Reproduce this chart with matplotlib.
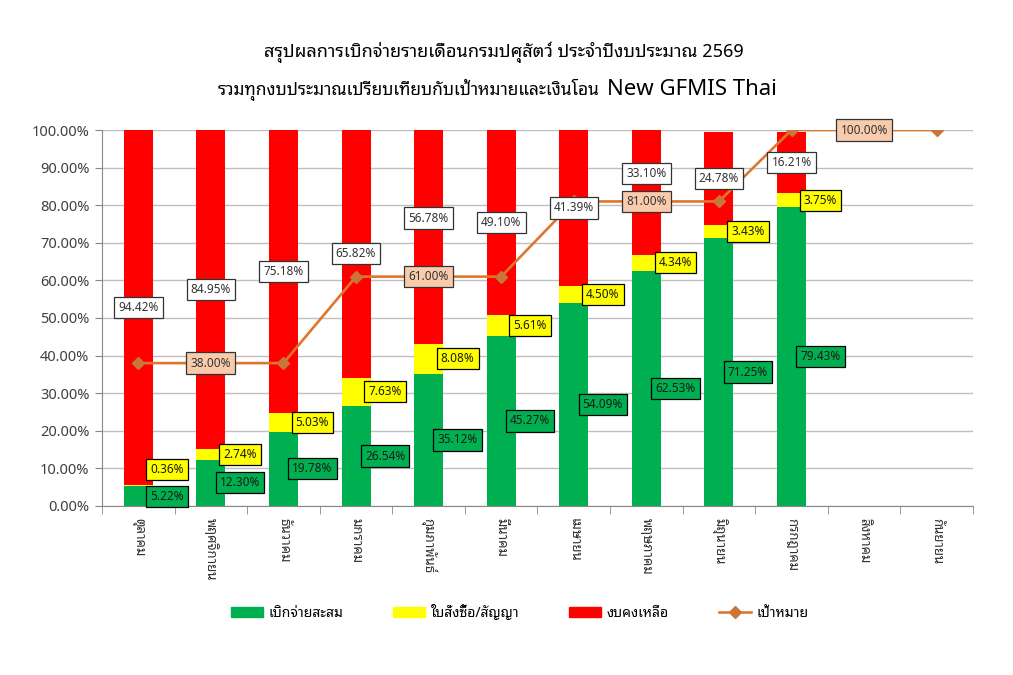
import matplotlib
matplotlib.use("Agg")
import matplotlib.pyplot as plt
import numpy as np
from matplotlib.patches import Patch
from matplotlib.lines import Line2D
from matplotlib.ticker import FixedLocator, PercentFormatter

plt.rcParams['font.family'] = ['Noto Sans Thai Looped', 'DejaVu Sans']

months = ['ตุลาคม', 'พฤศจิกายน', 'ธันวาคม', 'มกราคม', 'กุมภาพันธ์', 'มีนาคม',
          'เมษายน', 'พฤษภาคม', 'มิถุนายน', 'กรกฎาคม', 'สิงหาคม', 'กันยายน']
spent = [5.22, 12.30, 19.78, 26.54, 35.12, 45.27, 54.09, 62.53, 71.25, 79.43]
ordered = [0.36, 2.74, 5.03, 7.63, 8.08, 5.61, 4.50, 4.34, 3.43, 3.75]
remain = [94.42, 84.95, 75.18, 65.82, 56.78, 49.10, 41.39, 33.10, 24.78, 16.21]
target = [38, 38, 38, 61, 61, 61, 81, 81, 81, 100, 100, 100]
target_shown = [1, 4, 7, 10]   # months where the target value is written

GREEN = '#00B050'
YELLOW = '#FFFF00'
RED = '#FF0000'
ORANGE = '#E0762C'
DIAMOND = '#C8763A'

fig = plt.figure(figsize=(10.13, 6.75), dpi=100)
ax = fig.add_axes([0.1007, 0.2504, 0.8598, 0.557])

x = np.arange(len(spent))
w = 0.4
sp = np.array(spent)
od = np.array(ordered)
rm = np.array(remain)
ax.bar(x, sp, w, color=GREEN, zorder=2)
ax.bar(x, od, w, bottom=sp, color=YELLOW, zorder=2)
ax.bar(x, rm, w, bottom=sp + od, color=RED, zorder=2)

xt = np.arange(len(target))
ax.plot(xt, target, color=ORANGE, lw=1.9, marker='D', ms=6,
        mfc=DIAMOND, mec=DIAMOND, zorder=3)

fs = 8.5
box = dict(boxstyle='square,pad=0.35', lw=0.9)
for i in range(len(spent)):
    gy = sp[i] / 2
    yy = max(sp[i] + od[i] / 2, gy + 7)
    ry = sp[i] + od[i] + rm[i] / 2
    # keep the remaining-budget label clear of a written target label
    if i in target_shown and ry - target[i] < 12:
        ry = max(ry + 5, target[i] + 7.5)
    ax.text(x[i] + 0.4, gy, '%.2f%%' % sp[i], ha='center', va='center', fontsize=fs,
            color='#1a1a1a', zorder=5, bbox=dict(box, fc=GREEN, ec='black'))
    ax.text(x[i] + 0.4, yy, '%.2f%%' % od[i], ha='center', va='center', fontsize=fs,
            color='#1a1a1a', zorder=5, bbox=dict(box, fc=YELLOW, ec='black'))
    ax.text(x[i], ry, '%.2f%%' % rm[i], ha='center', va='center', fontsize=fs,
            color='#333333', zorder=5, bbox=dict(box, fc='white', ec='#333333'))

for i in target_shown:
    ax.text(xt[i], target[i], '%.2f%%' % target[i], ha='center', va='center', fontsize=fs,
            color='#333333', zorder=6, bbox=dict(box, fc='#F8CBAD', ec='#333333'))

ax.set_xlim(-0.5, len(months) - 0.5)
ax.set_ylim(0, 100)
ax.set_yticks(np.arange(0, 101, 10))
ax.yaxis.set_major_formatter(PercentFormatter(decimals=2))
ax.grid(axis='y', color='#BFBFBF', lw=1, zorder=0)
ax.set_axisbelow(True)

ax.set_xticks(xt)
ax.set_xticklabels(months, rotation=270, fontsize=9.5, color='#333333', va='top')
ax.xaxis.set_minor_locator(FixedLocator(np.arange(-0.5, len(months), 1)))
ax.tick_params(axis='x', which='major', length=0, pad=9)
ax.tick_params(axis='x', which='minor', length=6, color='#888888')
ax.tick_params(axis='y', length=5, color='#888888', labelsize=10.5, labelcolor='#404040', pad=4)

for s in ['top', 'right']:
    ax.spines[s].set_visible(False)
ax.spines['left'].set_color('#888888')
ax.spines['bottom'].set_color('#888888')

fig.text(0.497, 0.916, 'สรุปผลการเบิกจ่ายรายเดือนกรมปศุสัตว์ ประจำปีงบประมาณ 2569',
         ha='center', va='baseline', fontsize=13, color='black', fontweight='semibold')
fig.text(0.592, 0.859, 'รวมทุกงบประมาณเปรียบเทียบกับเป้าหมายและเงินโอน',
         ha='right', va='baseline', fontsize=12.5, color='black', fontweight='semibold')
fig.text(0.599, 0.859, 'New GFMIS Thai',
         ha='left', va='baseline', fontsize=16, color='black', fontweight='medium')

handles = [Patch(color=GREEN), Patch(color=YELLOW), Patch(color=RED),
           Line2D([], [], color=ORANGE, lw=1.9, marker='D', ms=6,
                  mfc=DIAMOND, mec=DIAMOND)]
labels = ['เบิกจ่ายสะสม', 'ใบสั่งซื้อ/สัญญา', 'งบคงเหลือ', 'เป้าหมาย']
fig.legend(handles, labels, loc='center', bbox_to_anchor=(0.513, 0.092), ncol=4,
           frameon=False, fontsize=10, columnspacing=3.6, handlelength=2.3,
           handletextpad=0.4)

fig.savefig('out.png')
